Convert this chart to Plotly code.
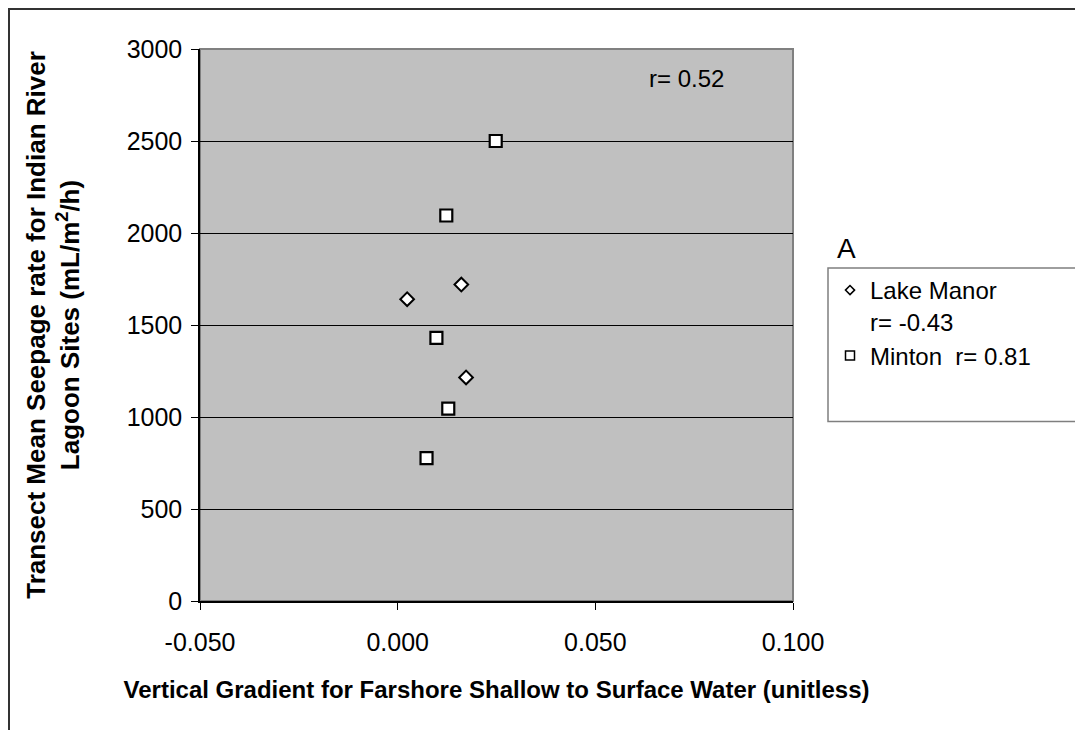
import plotly.graph_objects as go

# values
lake_manor_x = [0.0024, 0.0161, 0.0173]
lake_manor_y = [1640, 1720, 1215]
minton_x = [0.0248, 0.0123, 0.0098, 0.0128, 0.0073]
minton_y = [2500, 2095, 1430, 1046, 777]

x_ticks = [-0.05, 0.0, 0.05, 0.1]
x_tick_labels = ["-0.050", "0.000", "0.050", "0.100"]
y_ticks = [0, 500, 1000, 1500, 2000, 2500, 3000]

FONT = "Arial, Liberation Sans, sans-serif"

# the page adds an 8px body margin, so the figure is shifted by 8px;
# target plot area on screen: x 200..793, y 49..601
def px(v):
    return (v - 200) / 593


def py(v):
    return (601 - v) / 552


fig = go.Figure()

fig.add_trace(
    go.Scatter(
        x=lake_manor_x,
        y=lake_manor_y,
        mode="markers",
        marker=dict(symbol="diamond", size=10.5, color="white",
                    line=dict(color="black", width=2)),
        showlegend=False,
    )
)
fig.add_trace(
    go.Scatter(
        x=minton_x,
        y=minton_y,
        mode="markers",
        marker=dict(symbol="square", size=12, color="white",
                    line=dict(color="black", width=2.2)),
        showlegend=False,
    )
)
# legend-only entries with smaller symbols
fig.add_trace(
    go.Scatter(
        x=[None], y=[None], mode="markers",
        name="Lake Manor<br>r= -0.43",
        marker=dict(symbol="diamond", size=7, color="white",
                    line=dict(color="black", width=1.5)),
    )
)
fig.add_trace(
    go.Scatter(
        x=[None], y=[None], mode="markers",
        name="Minton\u00a0\u00a0r= 0.81",
        marker=dict(symbol="square", size=9, color="white",
                    line=dict(color="black", width=1.5)),
    )
)

fig.update_xaxes(
    range=[-0.05, 0.1],
    tickvals=x_ticks,
    ticktext=x_tick_labels,
    ticks="outside",
    ticklen=7,
    tickcolor="black",
    showgrid=False,
    zeroline=False,
    showline=True,
    linecolor="black",
    linewidth=1.5,
    tickfont=dict(size=25, color="black"),
    ticklabelstandoff=11,
    title=dict(
        text="<b>Vertical Gradient for Farshore Shallow to Surface Water (unitless)</b>",
        font=dict(size=24, color="black"),
        standoff=26,
    ),
)
fig.update_yaxes(
    range=[0, 3000],
    tickvals=y_ticks,
    ticks="outside",
    ticklen=7,
    tickcolor="black",
    showgrid=True,
    gridcolor="black",
    gridwidth=1,
    zeroline=False,
    showline=True,
    linecolor="black",
    linewidth=1.5,
    tickfont=dict(size=25, color="black"),
    ticklabelstandoff=4,
    title=dict(
        text="<b>Transect Mean Seepage rate for Indian River<br>Lagoon Sites (mL/m<sup>2</sup>/h)</b>",
        font=dict(size=26, color="black"),
        standoff=40,
    ),
)

shapes = [
    # grey frame on top/right of the plot area
    dict(type="rect", xref="paper", yref="paper", x0=0, x1=1, y0=0, y1=1,
         line=dict(color="#808080", width=2), layer="below"),
    # outer chart border
    dict(type="rect", xref="paper", yref="paper",
         x0=px(9), x1=px(1100), y0=py(760), y1=py(9),
         line=dict(color="#333333", width=2)),
    # legend box
    dict(type="rect", xref="paper", yref="paper",
         x0=px(828), x1=px(1082), y0=py(421.5), y1=py(268),
         line=dict(color="#7f7f7f", width=1.5), fillcolor="white", layer="below"),
]

annotations = [
    dict(text="r= 0.52", xref="paper", yref="paper", x=px(686), y=py(78),
         xanchor="center", yanchor="middle",
         showarrow=False, font=dict(size=24, color="black")),
    dict(text="A", xref="paper", yref="paper", x=px(846), y=py(248),
         xanchor="center", yanchor="middle",
         showarrow=False, font=dict(size=28, color="black")),
]

fig.update_layout(
    width=1083,
    height=730,
    margin=dict(l=192, r=298, t=41, b=137),
    paper_bgcolor="white",
    plot_bgcolor="#C0C0C0",
    font=dict(family=FONT, color="black"),
    shapes=shapes,
    annotations=annotations,
    legend=dict(
        x=px(830), y=py(268), xanchor="left", yanchor="top",
        bgcolor="rgba(0,0,0,0)", borderwidth=0,
        font=dict(size=24, color="black"),
        valign="top",
        itemwidth=30,
    ),
)

fig.write_html("out.html")
